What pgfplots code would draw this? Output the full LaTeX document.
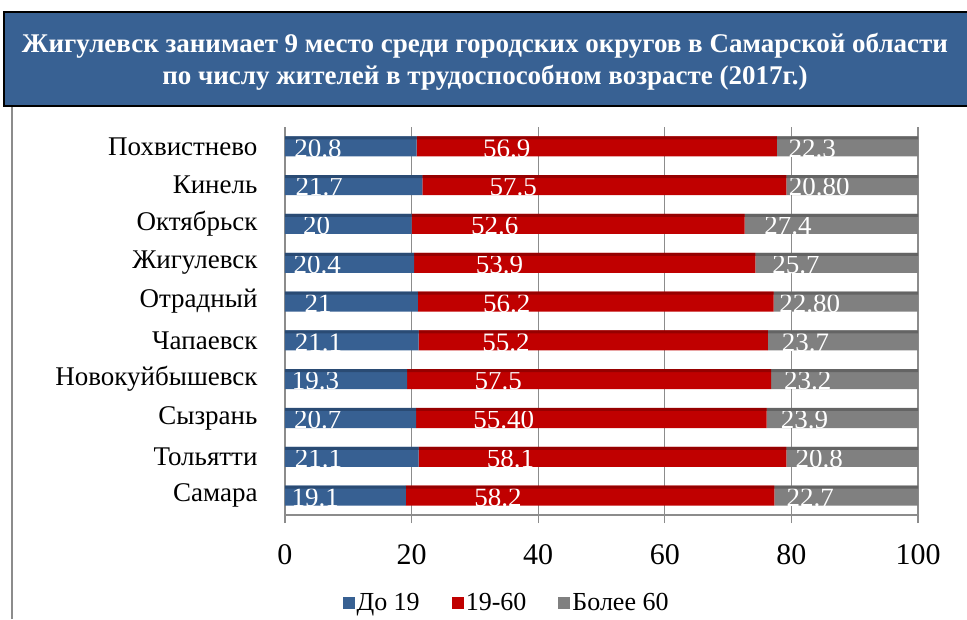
\documentclass[border=0pt]{standalone}
\usepackage{pgfplots}
\pgfplotsset{compat=1.18}
\usepackage{pgfplotstable}
\usepackage{fontspec}
\setmainfont{Liberation Serif}
\definecolor{cblue}{HTML}{376092}
\definecolor{cred}{HTML}{C00000}
\definecolor{cgray}{HTML}{808080}
\definecolor{dblue}{HTML}{2A4B74}
\definecolor{dred}{HTML}{960000}
\definecolor{dgray}{HTML}{646464}
\definecolor{ctitle}{HTML}{386193}
\definecolor{cgrid}{HTML}{8C8C8C}

% rows from bottom (Самара) to top (Похвистнево); la/lb/lc are the printed labels
\pgfplotstableread{
y a b c la lb lc
0 19.1 58.2 22.7 19.1 58.2 22.7
1 21.1 58.1 20.8 21.1 58.1 20.8
2 20.7 55.4 23.9 20.7 55.40 23.9
3 19.3 57.5 23.2 19.3 57.5 23.2
4 21.1 55.2 23.7 21.1 55.2 23.7
5 21.0 56.2 22.8 21 56.2 22.80
6 20.4 53.9 25.7 20.4 53.9 25.7
7 20.0 52.6 27.4 20 52.6 27.4
8 21.7 57.5 20.8 21.7 57.5 20.80
9 20.8 56.9 22.3 20.8 56.9 22.3
}\data

\pgfplotsset{frame/.style={
    at={(285pt,104pt)}, anchor=south west,
    scale only axis, width=633pt, height=388pt,
    xbar stacked,
    xmin=0, xmax=100, ymin=-0.5, ymax=9.5}}

\begin{document}
\begin{tikzpicture}
\useasboundingbox (0pt,0pt) rectangle (967pt,619pt);
\fill[ctitle,draw=black,line width=1.5pt] (4pt,513pt) rectangle (975pt,607pt);
\node[white,font=\fontsize{27}{32}\selectfont\bfseries,align=center] at (485pt,557pt)
  {Жигулевск занимает 9 место среди городских округов в Самарской области\\
   по числу жителей в трудоспособном возрасте (2017г.)};
\draw[cgrid,line width=1.2pt] (12pt,0pt) -- (12pt,512pt);
\begin{axis}[
    frame, bar width=20pt,
    xtick={0,20,...,100},
    ytick={0,...,9},
    yticklabels={Самара,Тольятти,Сызрань,Новокуйбышевск,Чапаевск,Отрадный,Жигулевск,Октябрьск,Кинель,Похвистнево},
    minor ytick={-0.5,0.5,...,9.5},
    axis lines*=left,
    axis line style={cgrid,line width=1.2pt,-},
    xmajorgrids, grid style={cgrid,line width=1.2pt},
    tick align=outside,
    major tick length=8pt,
    xtick style={cgrid,line width=1.2pt},
    ytick style={draw=none},
    minor tick style={cgrid,line width=1.2pt},
    minor tick length=12pt,
    /pgf/number format/assume math mode=true,
    xticklabel style={font=\fontsize{30}{34}\selectfont, yshift=-18pt},
    yticklabel style={font=\fontsize{27}{30}\selectfont, xshift=-16pt},
    legend style={at={(0.35,-0.227)}, anchor=center, draw=none,
        legend columns=3, font=\fontsize{26}{30}\selectfont,
        /tikz/every even column/.append style={column sep=30pt}},
    legend image code/.code={\fill[#1] (0pt,-6pt) rectangle (12pt,6pt);},
    nodes near coords,
    point meta=explicit symbolic,
    visualization depends on={rawx \as \rawx},
    every node near coord/.append style={anchor=center, xshift=-\rawx*1.5825pt,
        yshift=-2pt, white, font=\fontsize{27}{30}\selectfont},
]
\addplot[fill=cblue, draw=none] table[x=a, y=y, meta=la] {\data};
\addlegendentry{До 19}
\addplot[fill=cred, draw=none] table[x=b, y=y, meta=lb] {\data};
\addlegendentry{19-60}
\addplot[fill=cgray, draw=none] table[x=c, y=y, meta=lc] {\data};
\addlegendentry{Более 60}
\end{axis}
% darker top faces of the bars
\begin{axis}[frame, axis lines=none, bar width=3pt, bar shift=8.5pt]
\addplot[fill=dblue, draw=none] table[x=a, y=y] {\data};
\addplot[fill=dred, draw=none] table[x=b, y=y] {\data};
\addplot[fill=dgray, draw=none] table[x=c, y=y] {\data};
\end{axis}
\end{tikzpicture}
\end{document}
